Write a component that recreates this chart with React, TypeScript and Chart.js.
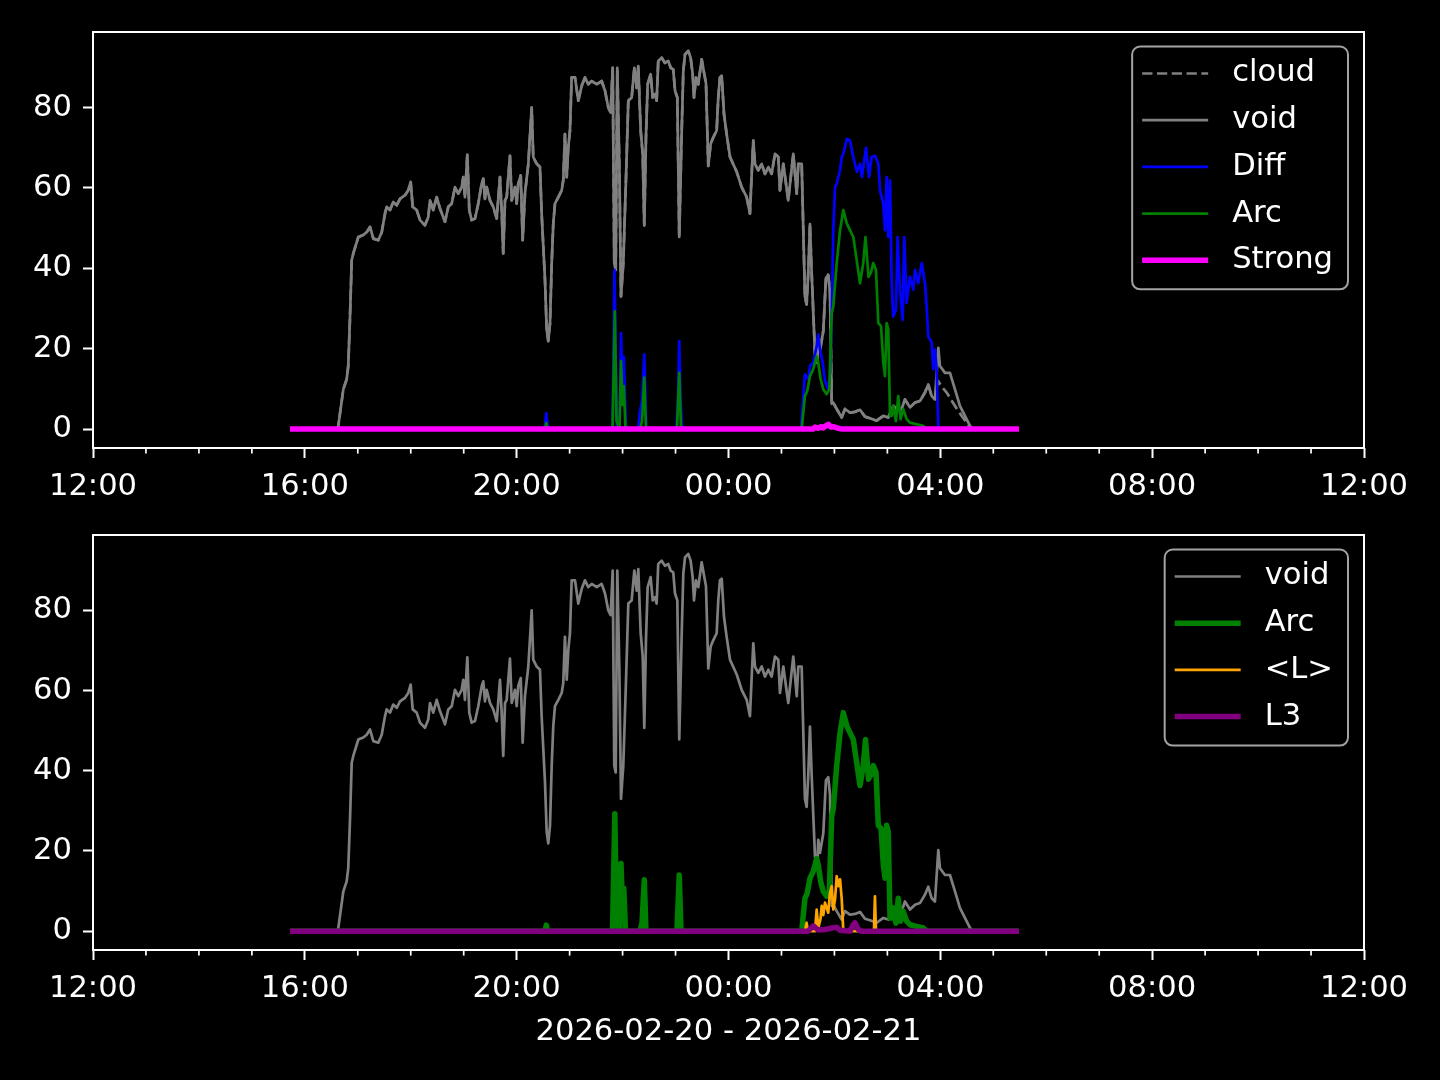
import React, { useEffect, useRef } from 'react';
import { Chart, registerables } from 'chart.js';
Chart.register(...registerables);

// Time values are minutes after 2026-02-20 12:00
const voidTime = [223.2, 276.4, 277.9, 283.6, 287.4, 289.2, 291.2, 293.1, 294.9, 300.6, 306.2, 310.1, 313.8, 317.6, 323.2, 327.1, 330.8, 332.7, 336.5, 340.2, 344.1, 347.8, 353.5, 357.2, 359.9, 362.2, 366.7, 370.5, 376.1, 379.9, 381.8, 385.5, 389.4, 393.1, 398.8, 402.5, 406.4, 410.1, 413.9, 417.7, 419.5, 421.4, 424.1, 426.3, 429, 432.8, 436.5, 440.4, 442.2, 444.1, 446, 449.8, 453.5, 457.4, 461.1, 463, 464.8, 466.8, 468.7, 472.4, 474.4, 478.1, 480, 481.8, 484.6, 486.8, 489.4, 493.2, 497, 498.8, 502.7, 506.4, 508.3, 512.1, 514, 515.8, 517.8, 519.7, 521.5, 523.4, 527.2, 531, 532.8, 534.7, 536.7, 538.5, 540.4, 542.3, 546.1, 549.8, 553.7, 557.4, 561.1, 565, 570.7, 576.3, 580.1, 583.8, 586.5, 588.8, 590.6, 592.2, 594, 596.3, 598.2, 600.8, 603.8, 606.5, 610.3, 613.3, 616, 617.8, 620.5, 622.8, 624.6, 626.5, 628.4, 631.8, 634.1, 636.7, 638.6, 640.4, 644.3, 648, 651.8, 654.5, 657.4, 659.4, 662, 664.2, 667, 668.8, 670.7, 674.4, 677.1, 679.4, 680.9, 683.2, 685.8, 689.6, 692.6, 694.5, 697.1, 699.8, 702.8, 706.6, 708.4, 710.3, 712.3, 714.9, 717.9, 721.7, 729.3, 734.9, 740.6, 744.3, 746.3, 748.1, 750, 753.7, 757.6, 761.3, 765.1, 768.9, 772.7, 776.4, 778.3, 782.1, 787.7, 793.4, 797.3, 799.1, 802.9, 804.7, 806.6, 808.5, 810.4, 812.3, 814.2, 818, 820.6, 821.7, 823.6, 827.4, 830.4, 833, 835, 837, 838.7, 842.6, 848.2, 852, 857.6, 863.3, 869, 874.6, 880.3, 887.9, 895.4, 901, 906.7, 910.5, 916.2, 919.9, 925.6, 931.3, 936.9, 942.6, 946.3, 950.2, 953.9, 957.7, 959.6, 965.3, 970.9, 976.6, 982.2, 987.9, 993.6, 997, 1049.1];
const voidValue = [0, 0, 0.8, 9.9, 12.4, 15.7, 28, 42, 43.7, 47.8, 48.3, 49, 50.3, 47.4, 47, 49, 53.6, 55.3, 54.5, 56.5, 55.7, 57.3, 58.2, 59.4, 61.5, 55.3, 54.5, 52, 50.7, 52.8, 56.9, 54.5, 57.7, 54.9, 51.6, 55.3, 56.1, 60.2, 58.6, 60.2, 62.7, 57.7, 68.3, 54.5, 52, 52.4, 56.1, 61.1, 62.3, 57.3, 60.2, 56.9, 55.3, 52.4, 62.7, 54.5, 43.7, 56.9, 57.7, 68, 56.9, 60.2, 56.1, 61.1, 63.1, 47, 58.6, 66, 80, 67.7, 66, 65.2, 53.6, 37.1, 24.8, 21.9, 26.4, 41.3, 51.2, 56.1, 57.7, 59.4, 61.9, 73.4, 62.7, 70.1, 74.3, 87.5, 87.5, 81.7, 85.4, 87.5, 85.8, 86.6, 85.8, 86.6, 84.2, 80, 78.8, 89.9, 41.3, 39.6, 89.9, 66, 33, 41.3, 61.9, 81.7, 82.5, 89.9, 84.9, 90.3, 74.3, 68.5, 50.7, 72.6, 85.8, 88.3, 82.5, 83.3, 81.7, 91.6, 92.4, 91.1, 91.6, 89.9, 89.5, 84.2, 82.5, 47.8, 74.3, 89.1, 93.2, 94.1, 92.4, 88.3, 82.5, 87.5, 85.8, 92, 88.3, 86, 65.5, 71, 72.6, 74.3, 82.5, 87.5, 87.9, 78.4, 73.4, 67.7, 64, 60.2, 57.7, 53.6, 63.5, 71.8, 66, 64.4, 66, 63.5, 65.2, 63.5, 68.5, 67.7, 59.4, 66, 56.9, 68.5, 58.6, 66, 66, 50, 33, 31, 39, 51, 39, 18.6, 16.5, 22.8, 19.5, 24.4, 37.6, 38.4, 34, 6.3, 6.6, 5, 2.9, 5, 4.1, 4.3, 4.8, 3.1, 2.7, 2.1, 3.3, 2.9, 5.8, 5, 5, 7.4, 5.4, 6.6, 7, 9.1, 11.1, 8.2, 7.4, 20.2, 15.7, 14, 14, 9.9, 5.8, 3.3, 0.8, 0, 0];

// cloud follows void until ~03:54, then its own tail
const cloudSplitTime = 954;
const cloudTailTime = [957.2, 961.8, 967.5, 973.1, 978.8, 984.5, 990.2, 994.7, 1049.1];
const cloudTailValue = [12, 10.5, 9, 7, 5, 3.2, 1.5, 0, 0];

const diffTime = [223.2, 511.5, 513.6, 515.5, 588.6, 590.8, 593.6, 596.5, 598.2, 599.9, 601.4, 603.8, 617.5, 619.7, 622, 624.6, 626.9, 661.1, 662.8, 664.2, 665.6, 667.3, 802.1, 806.6, 810.4, 812.3, 816, 819.9, 821.7, 823.6, 826.7, 829.3, 832.7, 835, 837, 838.7, 840.7, 842.6, 846.4, 848.3, 850.1, 854, 857.6, 861.4, 865.5, 869, 871.2, 875.8, 879.2, 882.2, 886, 889.7, 891.7, 895.4, 897.3, 899.2, 901, 903, 904.9, 906.7, 909.7, 911.6, 914.2, 917.3, 919.1, 921.8, 925.6, 929.4, 931.3, 935, 938.9, 942.6, 944.5, 946.3, 950.2, 952, 953.9, 955.8, 957.7, 958.5, 1049.1];
const diffValue = [0, 0, 4, 0, 0, 39.6, 0.5, 0, 23.9, 12, 18, 0, 0, 4.5, 7, 18.6, 0, 0, 8, 21.9, 8, 0, 0, 13.6, 12.4, 15.7, 16.5, 20.6, 23.5, 19.8, 16.5, 12, 10, 14, 28.9, 49.5, 60.2, 61.1, 64.4, 67.7, 68.5, 72.2, 71.8, 67.7, 64, 66, 62.7, 70, 62.7, 67.7, 68, 66, 59.4, 56.1, 49.5, 62.7, 47.8, 61.9, 36.3, 28, 29.7, 47.8, 34.7, 27.2, 47.8, 31.4, 37.9, 34.7, 39.6, 36.3, 41.3, 36.3, 30.5, 23.1, 21.5, 14.9, 19.8, 14.9, 0.8, 0, 0];

const arcTime = [223.2, 512.1, 513.6, 514.9, 588.6, 591.2, 593.1, 596.5, 598.2, 599.9, 601.4, 603.3, 619.7, 622, 624.6, 626.5, 661.6, 664.2, 666.2, 802.9, 806.6, 809.2, 812.3, 816, 819.9, 821.7, 824.4, 827.4, 831.2, 834.2, 837, 838.7, 842.6, 846.4, 850.1, 854, 857.6, 861.4, 865.2, 869, 872.7, 875.2, 878.6, 881.4, 884, 887.1, 889.7, 892.8, 895.4, 897.3, 899.2, 901, 903, 904.9, 906.7, 909.7, 912.3, 915, 917.9, 921.8, 925.6, 933.2, 940.7, 944.5, 1049.1];
const arcValue = [0, 0, 1.5, 0, 0, 29.3, 2, 0, 16.9, 6, 10.7, 0, 0, 2, 12.8, 0, 0, 14, 0, 0, 8.2, 9.5, 13.2, 14.9, 18.1, 16.5, 12.4, 9.9, 8.7, 9.9, 28.9, 30.5, 41.3, 49.5, 54.5, 51.2, 49.5, 47.8, 42.1, 36.3, 41.3, 47.8, 37.9, 39, 41.3, 39.6, 26.4, 25.6, 16.5, 13.2, 26.4, 24.8, 3.3, 3.3, 5.8, 2, 8.2, 2.5, 5, 2.5, 1.6, 1.2, 0.8, 0, 0];

const strongTime = [223.2, 815.8, 818, 821.4, 824.8, 827, 830.4, 833.3, 836.1, 839.5, 844, 848.5, 1049.1];
const strongValue = [0, 0, 0.5, 0.2, 0.6, 0.3, 0.8, 1.2, 0.5, 0.6, 0.2, 0, 0];

const lMeanTime = [223.2, 806.6, 808.5, 810, 818, 819.9, 821.7, 824.2, 825.6, 827.4, 829.3, 833, 835, 837, 838.7, 840.7, 842.6, 844.4, 846.4, 848.3, 850.1, 884.8, 885.9, 887.1, 1049.1];
const lMeanValue = [0, 0, 2.1, 0, 0, 5.4, 0.8, 3, 6.3, 4, 7.1, 4.6, 9.6, 11.2, 5.4, 7.9, 13.7, 11.2, 12.9, 7.9, 0, 0, 8.7, 0, 0];

const l3Time = [223.2, 810, 816, 821.4, 829.3, 837.2, 842.6, 846.4, 857.6, 861, 863.3, 866.7, 870.1, 1049.1];
const l3Value = [0, 0, 1.3, 0.3, 0.4, 0.8, 1, 0.2, 0, 1.5, 2.1, 0.5, 0, 0];

const xTickValues = Array.from({ length: 25 }, (_, i) => i * 60);
const yTickValues = [0, 20, 40, 60, 80];
const majorStep = 240;
const xLabelText = '2026-02-20 - 2026-02-21';

const FONT = '"DejaVu Sans", sans-serif';
const FS = 30.6;
const LW1 = 2.7;
const LW2 = 5.5;

function pts(t: number[], v: number[]) {
  return t.map((x, i) => ({ x, y: v[i] }));
}

function fmtTime(m: number) {
  const h = (12 + Math.round(m / 60)) % 24;
  return String(h).padStart(2, '0') + ':00';
}

const mplPlugin = {
  id: 'mpl',
  afterDraw(chart: any) {
    const { ctx, chartArea: a } = chart;
    const xs = chart.scales.x;
    ctx.save();
    // minor ticks
    ctx.strokeStyle = '#ffffff';
    ctx.lineWidth = 1.7;
    xTickValues.forEach((v) => {
      if (v % majorStep === 0) return;
      const px = xs.getPixelForValue(v);
      ctx.beginPath();
      ctx.moveTo(px, a.bottom);
      ctx.lineTo(px, a.bottom + 5.6);
      ctx.stroke();
    });
    // spines
    ctx.lineWidth = 2;
    ctx.strokeRect(a.left, a.top, a.right - a.left, a.bottom - a.top);

    // legend
    const items = chart.data.datasets.map((ds: any) => ({
      label: ds.label,
      color: ds.borderColor,
      width: ds.borderWidth,
      dash: ds.borderDash || [],
    }));
    ctx.font = `${FS}px ${FONT}`;
    const maxW = Math.max(...items.map((i: any) => ctx.measureText(i.label).width));
    const rowH = 46.7;
    const w = 100 + maxW + 15;
    const h = 27 + rowH * (items.length - 1) + 29;
    const x0 = a.right - 16 - w;
    const y0 = a.top + 14.5;
    const r = 8;
    ctx.beginPath();
    ctx.moveTo(x0 + r, y0);
    ctx.lineTo(x0 + w - r, y0);
    ctx.arcTo(x0 + w, y0, x0 + w, y0 + r, r);
    ctx.lineTo(x0 + w, y0 + h - r);
    ctx.arcTo(x0 + w, y0 + h, x0 + w - r, y0 + h, r);
    ctx.lineTo(x0 + r, y0 + h);
    ctx.arcTo(x0, y0 + h, x0, y0 + h - r, r);
    ctx.lineTo(x0, y0 + r);
    ctx.arcTo(x0, y0, x0 + r, y0, r);
    ctx.closePath();
    ctx.fillStyle = 'rgba(0,0,0,0.8)';
    ctx.fill();
    ctx.strokeStyle = 'rgba(204,204,204,0.8)';
    ctx.lineWidth = 2;
    ctx.stroke();
    items.forEach((it: any, i: number) => {
      const cy = y0 + 27 + i * rowH;
      ctx.beginPath();
      ctx.setLineDash(it.dash);
      ctx.strokeStyle = it.color;
      ctx.lineWidth = it.width;
      ctx.moveTo(x0 + 10, cy);
      ctx.lineTo(x0 + 76, cy);
      ctx.stroke();
      ctx.setLineDash([]);
      ctx.fillStyle = '#ffffff';
      ctx.textBaseline = 'middle';
      ctx.textAlign = 'left';
      ctx.fillText(it.label, x0 + 100, cy);
    });
    ctx.restore();
  },
};

function makeOptions(padTop: number, xAxisHeight: number, withTitle: boolean): any {
  return {
    animation: false,
    responsive: false,
    devicePixelRatio: 1,
    layout: { padding: { top: padTop, right: 76, left: 0, bottom: 0 } },
    plugins: { legend: { display: false }, tooltip: { enabled: false } },
    elements: { point: { radius: 0 }, line: { tension: 0, borderJoinStyle: 'round' } },
    scales: {
      x: {
        type: 'linear',
        min: 0,
        max: 1440,
        afterBuildTicks: (s: any) => {
          s.ticks = xTickValues.map((v) => ({ value: v }));
        },
        afterFit: (s: any) => {
          s.height = xAxisHeight;
          s.paddingLeft = 0;
          s.paddingRight = 0;
        },
        border: { display: false },
        grid: {
          drawOnChartArea: false,
          drawTicks: true,
          tickLength: 10,
          tickWidth: 2,
          tickColor: (c: any) => (c.tick && c.tick.value % majorStep === 0 ? '#ffffff' : 'rgba(0,0,0,0)'),
        },
        ticks: {
          autoSkip: false,
          maxRotation: 0,
          color: '#ffffff',
          padding: 11,
          font: { family: FONT, size: FS },
          callback: (v: any) => (v % majorStep === 0 ? fmtTime(v) : ''),
        },
        title: withTitle
          ? {
              display: true,
              text: xLabelText,
              color: '#ffffff',
              font: { family: FONT, size: FS },
              padding: { top: 0, bottom: 30 },
            }
          : { display: false },
      },
      y: {
        type: 'linear',
        min: -4.7,
        max: 98.8,
        afterBuildTicks: (s: any) => {
          s.ticks = yTickValues.map((v) => ({ value: v }));
        },
        afterFit: (s: any) => {
          s.width = 93;
          s.paddingTop = 0;
          s.paddingBottom = 0;
        },
        border: { display: false },
        grid: { drawOnChartArea: false, drawTicks: true, tickLength: 10, tickWidth: 2, tickColor: '#ffffff' },
        ticks: { color: '#ffffff', padding: 11, font: { family: FONT, size: FS } },
      },
    },
  };
}

function line(label: string, data: any[], color: string, width: number, order: number, dash?: number[]) {
  return {
    label,
    data,
    borderColor: color,
    backgroundColor: color,
    borderWidth: width,
    borderDash: dash || [],
    pointRadius: 0,
    fill: false,
    order,
  };
}

export default function App() {
  const topRef = useRef<HTMLCanvasElement>(null);
  const botRef = useRef<HTMLCanvasElement>(null);

  useEffect(() => {
    document.body.style.background = '#000';
    const voidPts = pts(voidTime, voidValue);
    const cloudPts = voidPts.filter((p) => p.x <= cloudSplitTime).concat(pts(cloudTailTime, cloudTailValue));
    const arcPts = pts(arcTime, arcValue);

    const c1 = new Chart(topRef.current as HTMLCanvasElement, {
      type: 'line',
      data: {
        datasets: [
          line('cloud', cloudPts, '#808080', LW1, 5, [10.3, 4.5]),
          line('void', voidPts, '#808080', LW1, 4),
          line('Diff', pts(diffTime, diffValue), '#0000ff', LW1, 3),
          line('Arc', arcPts, '#008000', LW1, 2),
          line('Strong', pts(strongTime, strongValue), '#ff00ff', LW2, 1),
        ],
      },
      options: makeOptions(32, 72, false),
      plugins: [mplPlugin],
    } as any);

    const c2 = new Chart(botRef.current as HTMLCanvasElement, {
      type: 'line',
      data: {
        datasets: [
          line('void', voidPts, '#808080', LW1, 4),
          line('Arc', arcPts, '#008000', LW2, 3),
          line('<L>', pts(lMeanTime, lMeanValue), '#ffa500', LW1, 2),
          line('L3', pts(l3Time, l3Value), '#800080', LW2, 1),
        ],
      },
      options: makeOptions(15, 130, true),
      plugins: [mplPlugin],
    } as any);

    return () => {
      c1.destroy();
      c2.destroy();
    };
  }, []);

  return (
    <div style={{ position: 'absolute', left: 0, top: 0, width: 1440, height: 1080, background: '#000', overflow: 'hidden' }}>
      <canvas ref={topRef} width={1440} height={520} style={{ position: 'absolute', left: 0, top: 0, width: 1440, height: 520 }} />
      <canvas ref={botRef} width={1440} height={560} style={{ position: 'absolute', left: 0, top: 520, width: 1440, height: 560 }} />
    </div>
  );
}
